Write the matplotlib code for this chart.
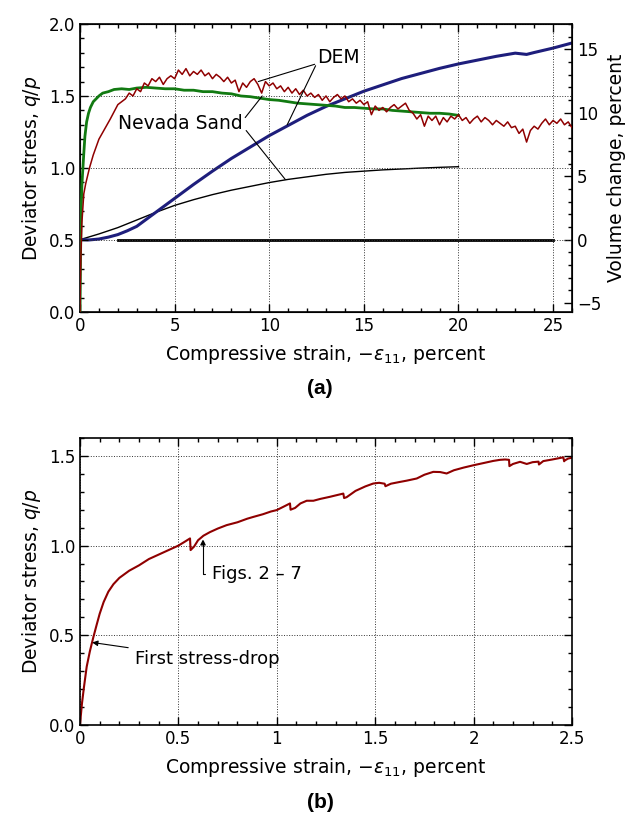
import numpy as np
import matplotlib
matplotlib.use("Agg")
import matplotlib.pyplot as plt
from matplotlib.ticker import MultipleLocator, FixedLocator, FixedFormatter

plt.rcParams['font.family'] = ['DejaVu Sans']
plt.rcParams['mathtext.fontset'] = 'dejavusans'

# ---------------- Panel (a) data ----------------
# DEM deviator stress q/p (red)
dem_qp_strain_early = [0, 0.02, 0.05, 0.1, 0.2, 0.3, 0.5, 0.7, 1.0, 1.3, 1.6, 2.0, 2.2]
dem_qp_early = [0, 0.2, 0.4, 0.62, 0.82, 0.89, 1.0, 1.09, 1.2, 1.27, 1.34, 1.44, 1.46]
dem_qp_strain_start, dem_qp_strain_step = 2.4, 0.2
dem_qp_late = [
    1.48, 1.52, 1.50, 1.55, 1.53, 1.59, 1.57, 1.62, 1.60, 1.63,
    1.58, 1.62, 1.64, 1.62, 1.68, 1.65, 1.69, 1.64, 1.67, 1.65,
    1.68, 1.64, 1.66, 1.62, 1.65, 1.63, 1.60, 1.63, 1.59, 1.61,
    1.53, 1.59, 1.56, 1.60, 1.62, 1.58, 1.52, 1.60, 1.57, 1.59,
    1.55, 1.57, 1.53, 1.56, 1.52, 1.55, 1.51, 1.54, 1.50, 1.52,
    1.49, 1.51, 1.47, 1.50, 1.46, 1.49, 1.51, 1.48, 1.50, 1.46,
    1.48, 1.45, 1.47, 1.44, 1.46, 1.37, 1.43, 1.40, 1.42, 1.39,
    1.42, 1.44, 1.41, 1.43, 1.45, 1.40, 1.38, 1.34, 1.37, 1.29,
    1.36, 1.33, 1.36, 1.30, 1.35, 1.32, 1.36, 1.34, 1.37, 1.33,
    1.35, 1.31, 1.34, 1.36, 1.32, 1.35, 1.33, 1.30, 1.33, 1.31,
    1.29, 1.32, 1.28, 1.29, 1.24, 1.27, 1.18, 1.26, 1.29, 1.27,
    1.31, 1.34, 1.30, 1.33, 1.31, 1.34, 1.30, 1.32, 1.28,
]

# Nevada Sand deviator stress q/p (green)
sand_qp_strain = [0, 0.03, 0.06, 0.1, 0.14, 0.2, 0.26, 0.35, 0.45, 0.55, 0.7, 0.85,
                  1.0, 1.2, 1.5, 1.8, 2.2, 2.6, 3.0, 3.5, 4.0, 4.5, 5.0, 5.5, 6.0,
                  6.5, 7.0, 7.5, 8.0, 8.5, 9.0, 9.5, 10.0, 10.5, 11.0, 11.5, 12.0,
                  12.5, 13.0, 13.5, 14.0, 14.5, 15.0, 15.5, 16.0, 16.5, 17.0, 17.5,
                  18.0, 18.5, 19.0, 19.5, 20.0]
sand_qp = [0, 0.4, 0.7, 0.88, 0.97, 1.1, 1.22, 1.32, 1.38, 1.42, 1.46, 1.48,
           1.50, 1.52, 1.53, 1.545, 1.55, 1.545, 1.555, 1.56, 1.555, 1.55, 1.55,
           1.54, 1.54, 1.53, 1.53, 1.52, 1.515, 1.50, 1.495, 1.485, 1.475, 1.47,
           1.46, 1.45, 1.445, 1.44, 1.435, 1.43, 1.42, 1.42, 1.415, 1.41, 1.41,
           1.40, 1.395, 1.39, 1.385, 1.38, 1.38, 1.375, 1.365]

# DEM volume change (blue, right axis)
dem_vol_strain = [0, 0.5, 1, 1.5, 2, 2.5, 3, 3.5, 4, 4.5, 5, 5.5, 6, 7, 8, 9, 10, 11,
                  12, 13, 14, 15, 16, 17, 18, 19, 20, 21, 22, 23, 23.6, 24, 25, 26]
dem_vol = [0, -0.02, 0.05, 0.2, 0.4, 0.7, 1.05, 1.6, 2.15, 2.7, 3.25, 3.8, 4.35,
           5.4, 6.4, 7.3, 8.2, 9.0, 9.8, 10.5, 11.1, 11.7, 12.2, 12.7, 13.1,
           13.5, 13.85, 14.15, 14.45, 14.7, 14.6, 14.75, 15.1, 15.5]

# Nevada Sand volume change (black, right axis)
sand_vol_strain = [0, 1, 2, 3, 4, 5, 6, 7, 8, 9, 10, 11, 12, 13, 14, 15, 16, 17, 18, 19, 20]
sand_vol = [0, 0.45, 0.95, 1.55, 2.15, 2.7, 3.15, 3.55, 3.9, 4.2, 4.5, 4.75, 4.95,
            5.15, 5.3, 5.4, 5.5, 5.57, 5.64, 5.7, 5.75]

# zero volume-change reference line
ref_strain = [2, 25]
ref_vol = [0, 0]

# ---------------- Panel (b) data ----------------
b_strain = [0, 0.004, 0.01, 0.02, 0.034, 0.05, 0.068, 0.085, 0.1, 0.12, 0.144, 0.17,
            0.2, 0.25, 0.3, 0.35, 0.4, 0.45, 0.5, 0.53, 0.559, 0.562, 0.58, 0.6,
            0.627, 0.66, 0.7, 0.745, 0.8, 0.85, 0.881, 0.93, 0.97, 1.0, 1.04, 1.067,
            1.07, 1.093, 1.12, 1.152, 1.186, 1.22, 1.27, 1.3, 1.338, 1.342, 1.355,
            1.4, 1.45, 1.49, 1.52, 1.548, 1.552, 1.58, 1.626, 1.66, 1.711, 1.75,
            1.795, 1.83, 1.863, 1.9, 1.95, 2.0, 2.05, 2.1, 2.134, 2.16, 2.18, 2.182,
            2.2, 2.236, 2.27, 2.3, 2.33, 2.332, 2.354, 2.4, 2.456, 2.46, 2.464, 2.48, 2.5]
b_qp = [0, 0.05, 0.12, 0.21, 0.325, 0.41, 0.49, 0.56, 0.62, 0.685, 0.743, 0.785,
        0.82, 0.86, 0.89, 0.925, 0.95, 0.975, 1.0, 1.02, 1.04, 0.975, 0.995, 1.03,
        1.055, 1.075, 1.095, 1.114, 1.13, 1.15, 1.16, 1.175, 1.19, 1.198, 1.22, 1.235,
        1.2, 1.21, 1.235, 1.25, 1.25, 1.26, 1.272, 1.28, 1.29, 1.265, 1.27,
        1.305, 1.33, 1.346, 1.35, 1.345, 1.331, 1.345, 1.355, 1.362, 1.374, 1.395,
        1.411, 1.41, 1.402, 1.42, 1.435, 1.448, 1.46, 1.472, 1.478, 1.48, 1.478, 1.443,
        1.455, 1.467, 1.455, 1.465, 1.468, 1.452, 1.471, 1.48, 1.492, 1.47, 1.475, 1.485, 1.49]

RED = '#8f0000'
GREEN = '#127a12'
BLUE = '#1e1e7c'
LABEL_FS = 13.5

fig = plt.figure(figsize=(6.4, 8.18), dpi=100)


def style_axes(ax, right=True):
    ax.tick_params(which='both', direction='in', top=True, right=right, labelsize=12)
    ax.tick_params(which='major', length=6, width=1)
    ax.tick_params(which='minor', length=3, width=1)
    for s in ax.spines.values():
        s.set_linewidth(1.2)


grid_kw = dict(which='major', linestyle=':', color='#333333', linewidth=0.7)

# ---------- Panel (a) ----------
ax1 = fig.add_axes([0.125, 0.6186, 0.76875, 0.3521])
ax2 = ax1.twinx()

dem_strain = dem_qp_strain_early + list(
    np.round(dem_qp_strain_start + dem_qp_strain_step * np.arange(len(dem_qp_late)), 3))
dem_vals = dem_qp_early + dem_qp_late

ax1.plot(sand_qp_strain, sand_qp, color=GREEN, lw=2.0, zorder=3)
ax1.plot(dem_strain, dem_vals, color=RED, lw=1.1, zorder=4)

ax2.plot(sand_vol_strain, sand_vol, color='black', lw=1.0)
ax2.plot(dem_vol_strain, dem_vol, color=BLUE, lw=2.2)
ax2.plot(ref_strain, ref_vol, color='black', lw=2.0)

ax1.set_xlim(0, 26)
ax1.set_ylim(0, 2.0)
ax2.set_ylim(-5.7, 17.0)
ax1.xaxis.set_major_locator(MultipleLocator(5))
ax1.xaxis.set_minor_locator(MultipleLocator(1))
ax1.yaxis.set_major_locator(MultipleLocator(0.5))
ax1.yaxis.set_minor_locator(MultipleLocator(0.1))
ax1.yaxis.set_major_formatter(plt.FormatStrFormatter('%.1f'))
ax2.yaxis.set_major_locator(MultipleLocator(5))
ax2.yaxis.set_minor_locator(MultipleLocator(1))
style_axes(ax1, right=False)
ax2.tick_params(which='both', direction='in', labelsize=12)
ax2.tick_params(which='major', length=6, width=1)
ax2.tick_params(which='minor', length=3, width=1)
ax1.grid(True, **grid_kw)

ax1.set_xlabel(r'Compressive strain, $-\varepsilon_{11}$, percent', fontsize=LABEL_FS, labelpad=6)
ax1.set_ylabel(r'Deviator stress, $q/p$', fontsize=LABEL_FS)
ax2.set_ylabel('Volume change, percent', fontsize=LABEL_FS)

line_kw = dict(arrowstyle='-', lw=0.8, color='black', shrinkA=0, shrinkB=0)
ax1.text(12.55, 1.765, 'DEM', fontsize=13.5, va='center', ha='left', zorder=6)
ax1.annotate('', xy=(9.42, 1.60), xytext=(12.4, 1.72), arrowprops=line_kw, zorder=6)
ax1.annotate('', xy=(10.95, 1.30), xytext=(12.45, 1.71), arrowprops=line_kw, zorder=6)
ax1.text(2.0, 1.31, 'Nevada Sand', fontsize=13.5, va='center', ha='left', zorder=6)
ax1.annotate('', xy=(9.63, 1.50), xytext=(8.73, 1.35), arrowprops=line_kw, zorder=6)
ax1.annotate('', xy=(10.85, 0.92), xytext=(8.78, 1.26), arrowprops=line_kw, zorder=6)
ax1.set_zorder(ax2.get_zorder() + 1)
ax1.patch.set_visible(False)

fig.text(0.5, 1 - 388 / 818, '(a)', ha='center', va='center', fontsize=15,
         fontweight='bold', family='Liberation Sans')

# ---------- Panel (b) ----------
axb = fig.add_axes([0.125, 0.1137, 0.76875, 0.3509])
axb.plot(b_strain, b_qp, color=RED, lw=1.5)
axb.set_xlim(0, 2.5)
axb.set_ylim(0, 1.6)
axb.xaxis.set_major_locator(FixedLocator([0, 0.5, 1, 1.5, 2, 2.5]))
axb.xaxis.set_major_formatter(FixedFormatter(['0', '0.5', '1', '1.5', '2', '2.5']))
axb.xaxis.set_minor_locator(MultipleLocator(0.1))
axb.yaxis.set_major_locator(MultipleLocator(0.5))
axb.yaxis.set_minor_locator(MultipleLocator(0.1))
axb.yaxis.set_major_formatter(plt.FormatStrFormatter('%.1f'))
style_axes(axb, right=True)
axb.grid(True, **grid_kw)
axb.set_xlabel(r'Compressive strain, $-\varepsilon_{11}$, percent', fontsize=LABEL_FS, labelpad=6)
axb.set_ylabel(r'Deviator stress, $q/p$', fontsize=LABEL_FS)

axb.annotate('Figs. 2 – 7', xy=(0.625, 1.035), xytext=(0.67, 0.84), fontsize=13,
             va='center', ha='left',
             arrowprops=dict(arrowstyle='-|>', lw=0.8, color='black', mutation_scale=8,
                             shrinkA=3, shrinkB=0,
                             connectionstyle='angle,angleA=0,angleB=90,rad=0'))
axb.annotate('First stress-drop', xy=(0.062, 0.46), xytext=(0.28, 0.367), fontsize=13,
             va='center', ha='left',
             arrowprops=dict(arrowstyle='-|>', lw=0.8, color='black', mutation_scale=8,
                             shrinkA=3, shrinkB=0))

fig.text(0.5, 1 - 802 / 818, '(b)', ha='center', va='center', fontsize=15,
         fontweight='bold', family='Liberation Sans')

fig.savefig('out.png', dpi=100)
